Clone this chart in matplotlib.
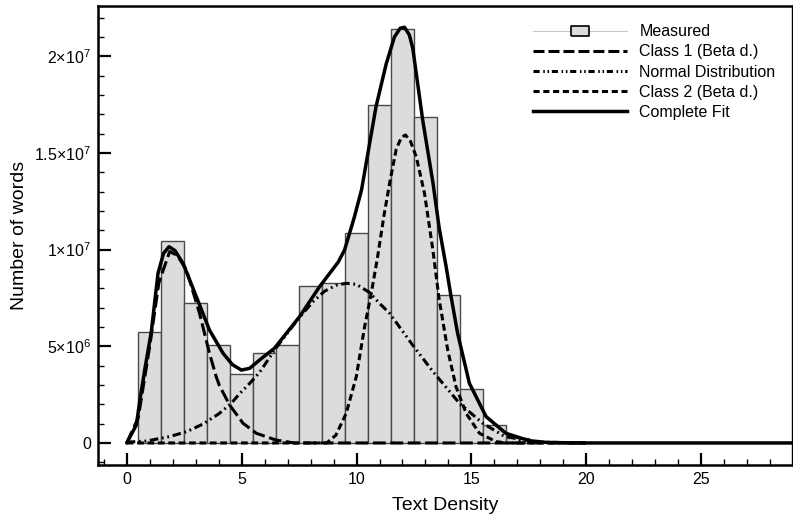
import numpy as np
import matplotlib
matplotlib.use("Agg")
import matplotlib.pyplot as plt
from matplotlib.lines import Line2D
from matplotlib.ticker import MultipleLocator, FixedLocator

plt.rcParams['font.family'] = ['Liberation Sans', 'DejaVu Sans']
plt.rcParams['mathtext.fontset'] = 'custom'
plt.rcParams['mathtext.rm'] = 'Liberation Sans'
plt.rcParams['mathtext.it'] = 'Liberation Sans'

# histogram (measured), bar centres and counts
bin_centers = [1, 2, 3, 4, 5, 6, 7, 8, 9, 10, 11, 12, 13, 14, 15, 16, 17]
counts = [5.74e6, 10.46e6, 7.23e6, 5.07e6, 3.55e6, 4.67e6, 5.07e6, 8.12e6, 8.26e6,
          10.84e6, 17.5e6, 21.4e6, 16.84e6, 7.67e6, 2.78e6, 0.93e6, 0.25e6]

# fitted curves (x, y in millions)
fit_x = [0, 0.42, 0.57, 0.8, 1.07, 1.36, 1.6, 1.84, 2.1, 2.45, 3.03, 3.6, 4.19, 4.6,
         4.99, 5.35, 5.78, 6.43, 7.52, 8.39, 8.83, 9.2, 9.48, 9.91, 10.22, 10.6,
         10.85, 11.29, 11.65, 11.9, 12.09, 12.3, 12.45, 12.88, 13.32, 13.6, 13.9, 14.1,
         14.4, 14.91, 15.64, 16.5, 17.5, 18.25, 19.5, 29]
fit_y = [0, 0.93, 2.2, 3.9, 5.76, 8.77, 9.8, 10.15, 9.95, 9.29, 7.56, 5.84, 4.64, 4.05,
         3.77, 3.86, 4.29, 4.9, 6.53, 8.08, 8.77, 9.35, 9.98, 11.7, 13.1, 15.7,
         17.4, 19.6, 21.0, 21.45, 21.5, 21.1, 20.4, 16.7, 13.5, 11.1, 9.12, 7.67,
         5.67, 3.09, 1.36, 0.5, 0.12, 0.03, 0, 0]

class1_x = [0, 0.5, 1.0, 1.4, 1.87, 2.2, 2.6, 3.17, 3.6, 3.9, 4.04, 4.48, 5.06, 5.64, 6.5, 7.3, 20]
class1_y = [0, 1.3, 5.0, 8.3, 9.9, 9.7, 8.95, 6.7, 4.64, 3.4, 2.95, 1.96, 1.02, 0.5, 0.15, 0, 0]

normal_x = [0, 0.86, 1.87, 2.6, 3.32, 4.0, 4.55, 4.91, 5.35, 5.78, 6.43, 7.0, 7.52, 8.1,
            8.61, 9.1, 9.55, 10.0, 10.57, 11.0, 11.43, 11.87, 12.45, 13.32, 14.48,
            15.49, 16.36, 17.5, 20]
normal_y = [0.04, 0.1, 0.33, 0.58, 0.98, 1.5, 2.05, 2.55, 3.08, 3.65, 4.8, 5.7, 6.5, 7.3,
            7.85, 8.15, 8.26, 8.2, 7.78, 7.22, 6.72, 6.0, 5.05, 3.7, 2.05, 1.02,
            0.4, 0.05, 0]

class2_x = [0, 8.7, 9.1, 9.55, 9.99, 10.35, 10.65, 10.9, 11.2, 11.45, 11.73, 11.95,
            12.13, 12.35, 12.6, 12.96, 13.32, 13.6, 13.97, 14.33, 14.77, 15.35, 16.07,
            16.5, 20]
class2_y = [0, 0, 0.4, 1.53, 3.43, 6.0, 7.8, 9.5, 11.8, 13.5, 15.2, 15.8, 15.93, 15.6,
            14.8, 12.9, 10.0, 7.4, 4.8, 2.91, 1.53, 0.5, 0.07, 0, 0]

labels = ['Measured', 'Class 1 (Beta d.)', 'Normal Distribution', 'Class 2 (Beta d.)',
          'Complete Fit']

fig = plt.figure(figsize=(7.93, 5.22), dpi=100)
ax = fig.add_axes([0.1236, 0.1092, 0.8751, 0.8793])

ax.bar(bin_centers, counts, width=1.0, color='#dcdcdc', edgecolor='#4a4a4a', linewidth=1.0, zorder=1)

M = 1e6
ax.plot(class1_x, np.array(class1_y) * M, color='k', lw=2.2, dashes=(4.2, 1.5), zorder=3)
ax.plot(normal_x, np.array(normal_y) * M, color='k', lw=2.2, dashes=(2.8, 1.2, 0.6, 1.2, 0.6, 1.2), zorder=3)
ax.plot(class2_x, np.array(class2_y) * M, color='k', lw=2.2, dashes=(2.2, 1.2), zorder=3)
ax.plot(fit_x, np.array(fit_y) * M, color='k', lw=2.5, zorder=4,
        solid_capstyle='round', solid_joinstyle='round')

ax.set_xlim(-1.25, 28.95)
ax.set_ylim(-1.14e6, 2.26e7)

ax.xaxis.set_major_locator(MultipleLocator(5))
ax.xaxis.set_minor_locator(MultipleLocator(1))
ax.yaxis.set_major_locator(FixedLocator([0, 5e6, 1e7, 1.5e7, 2e7]))
ax.yaxis.set_minor_locator(MultipleLocator(1e6))
ax.set_yticklabels(['0', r'$5{\times}10^{6}$', r'$1{\times}10^{7}$',
                    r'$1.5{\times}10^{7}$', r'$2{\times}10^{7}$'])

ax.tick_params(which='major', direction='in', length=9, width=1.6, labelsize=11.5, pad=5)
ax.tick_params(which='minor', direction='in', length=4.5, width=1.0)
ax.tick_params(top=False, right=False)

for side in ['left', 'bottom', 'top']:
    ax.spines[side].set_linewidth(1.8)
ax.spines['right'].set_linewidth(1.0)

ax.set_xlabel('Text Density', fontsize=14, labelpad=7)
ax.set_ylabel('Number of words', fontsize=14, labelpad=4)

handles = [
    Line2D([], [], color='#c8c8c8', lw=0.8, marker=[(-1, -0.5), (1, -0.5), (1, 0.5), (-1, 0.5), (-1, -0.5)],
           markersize=13, markerfacecolor='#dcdcdc', markeredgecolor='k', markeredgewidth=1.2),
    Line2D([], [], color='k', lw=2.2, dashes=(3.6, 1.3)),
    Line2D([], [], color='k', lw=2.2, dashes=(2.0, 1.2, 0.5, 0.9, 0.5, 0.9)),
    Line2D([], [], color='k', lw=2.2, dashes=(2.0, 1.2)),
    Line2D([], [], color='k', lw=2.5),
]
ax.legend(handles, labels, loc='upper left', bbox_to_anchor=(0.627, 0.96), frameon=False,
          fontsize=11.5, handlelength=5.9, handletextpad=0.75, labelspacing=0.32,
          borderpad=0, borderaxespad=0)

fig.savefig('out.png', dpi=100)
